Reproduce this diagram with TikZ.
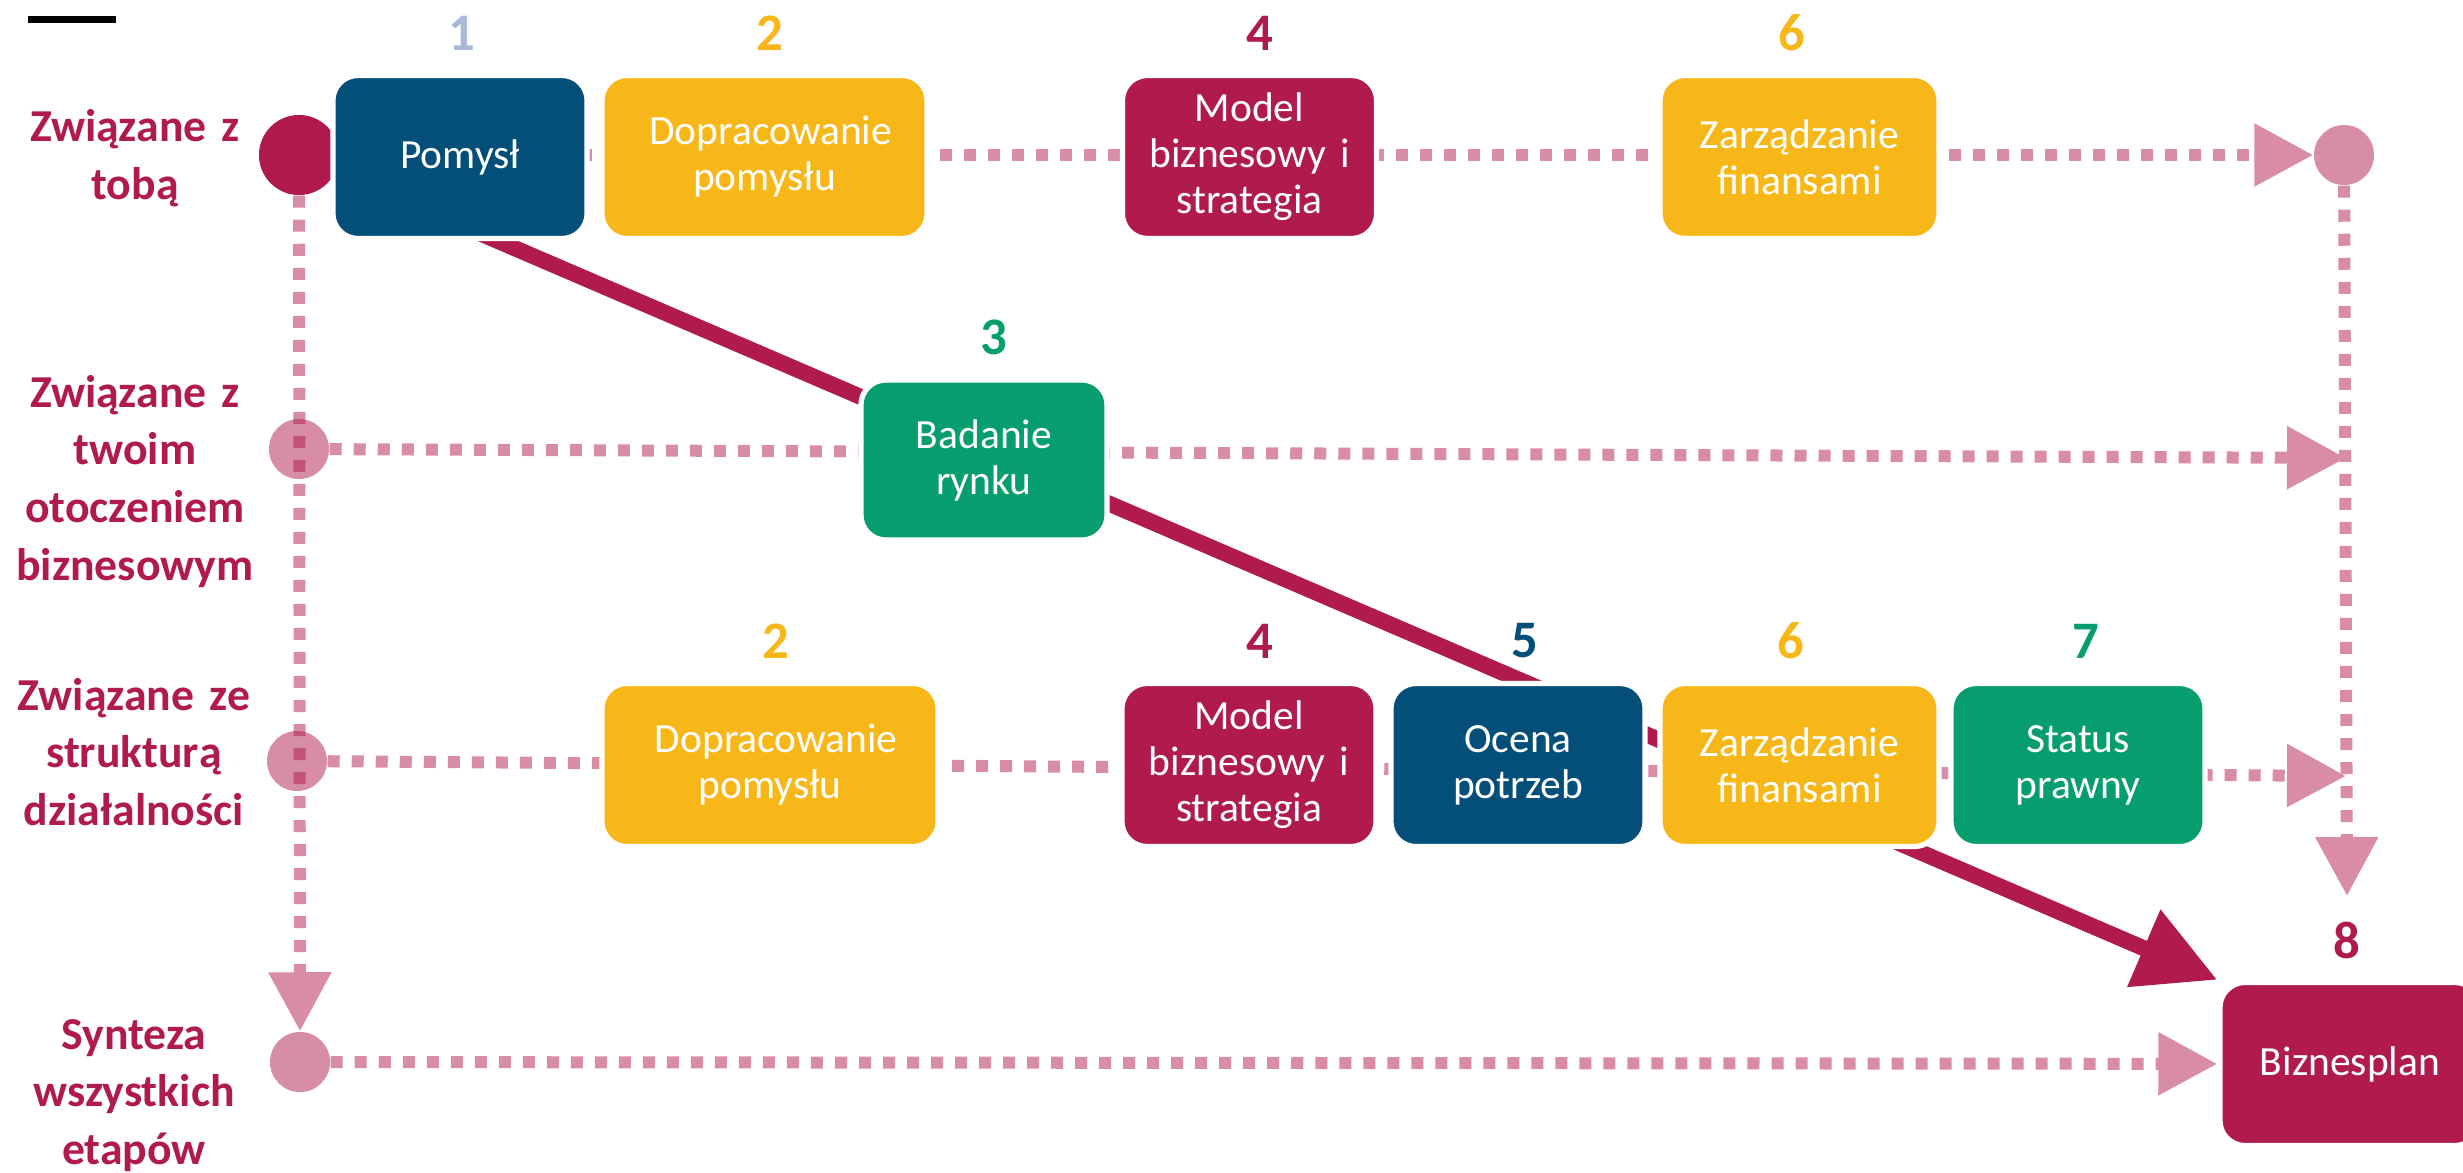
\documentclass[tikz,border=0pt]{standalone}
\usepackage{fontspec}
\setmainfont{Carlito}
\usepackage{tikz}
\usetikzlibrary{arrows.meta,backgrounds,calc}
\definecolor{bpmagenta}{HTML}{B01A4F}
\definecolor{bppink}{HTML}{D88CA7}
\definecolor{bpblue}{HTML}{044E7A}
\definecolor{bpyellow}{HTML}{F7B718}
\definecolor{bpgreen}{HTML}{069E6E}
\definecolor{bpgrey}{HTML}{AAB9DA}

\begin{document}
\begin{tikzpicture}[x=0.01cm,y=-0.01cm,
  stage/.style={rounded corners=0.25cm, draw=white, line width=1.5pt, text=white,
    minimum width=2.54cm, minimum height=1.63cm, text width=2.3cm, inner sep=0pt,
    align=center, font=\fontsize{11.8}{13.1}\selectfont},
  rowlabel/.style={text=bpmagenta, text width=2.6cm, align=center, inner sep=0pt,
    anchor=base, font=\bfseries\fontsize{13}{16.4}\selectfont},
  stepno/.style={inner sep=0pt, font=\bfseries\fontsize{15}{18}\selectfont},
  hub/.style={circle, fill=bpmagenta, opacity=0.5, minimum size=0.6cm, inner sep=0pt},
  dotline/.style={draw=bppink, line width=0.12cm,
    dash pattern=on 0.12cm off 0.12cm, -{Triangle[length=0.59cm,width=0.6cm]}},
  mainarrow/.style={draw=bpmagenta, line width=0.16cm,
    -{Triangle[length=0.8cm,width=0.8cm]}}
]
\useasboundingbox (0,0) rectangle (2463,1173);
\draw[line width=0.07cm] (28,19.5) -- (116,19.5);

% row labels
\node[rowlabel] (lab1) at (135,142) {Związane z\\tobą};
\node[rowlabel] (lab2) at (135,407) {Związane z\\twoim\\otoczeniem\\biznesowym};
\node[rowlabel] (lab3) at (134,710) {Związane ze\\strukturą\\działalności};
\node[rowlabel] (lab5) at (134,1049) {Synteza\\wszystkich\\etapów};

% hubs
\node[hub, opacity=1, minimum size=0.8cm] (hubA) at (299,155) {};
\node[hub] (hubAR) at (2344,155) {};
\node[hub] (hubB) at (299,449) {};
\node[hub] (hubC) at (297,761) {};
\node[hub] (hubD) at (300,1062) {};
\coordinate (endB) at (2346,458);
\coordinate (endC) at (2346,776);
\coordinate (endR) at (2347,896);
\coordinate (diagstart) at (470,229);

% stages
\node[stage, fill=bpblue] (pomysl) at (460,157) {Pomysł};
\node[stage, fill=bpyellow, minimum width=3.25cm] (dopr1) at (764.5,157) {Dopracowanie\\pomysłu};
\node[stage, fill=bpmagenta] (model1) at (1249.5,157) {Model\\biznesowy i\\strategia};
\node[stage, fill=bpyellow, minimum width=2.79cm] (fin1) at (1799.5,157) {Zarządzanie\\finansami};
\node[stage, fill=bpgreen, minimum width=2.46cm, minimum height=1.6cm] (badanie) at (984,460) {Badanie\\rynku};
\node[stage, fill=bpyellow, minimum width=3.36cm] (dopr3) at (770,765) {Dopracowanie\\pomysłu};
\node[stage, fill=bpmagenta] (model3) at (1249,765) {Model\\biznesowy i\\strategia};
\node[stage, fill=bpblue] (ocena) at (1518,765) {Ocena\\potrzeb};
\node[stage, fill=bpyellow, minimum width=2.79cm] (fin3) at (1799.5,765) {Zarządzanie\\finansami};
\node[stage, fill=bpgreen] (status) at (2078,765) {Status\\prawny};
\node[stage, fill=bpmagenta, minimum width=2.6cm] (biznesplan) at (2350,1064) {Biznesplan};

% step numbers
\node[stepno, text=bpgrey] (n1) at (462,33) {1};
\node[stepno, text=bpyellow] (n2a) at (770,33) {2};
\node[stepno, text=bpmagenta] (n4a) at (1260,33) {4};
\node[stepno, text=bpyellow] (n6a) at (1792,33) {6};
\node[stepno, text=bpgreen] (n3) at (994,337) {3};
\node[stepno, text=bpyellow] (n2b) at (776,641) {2};
\node[stepno, text=bpmagenta] (n4b) at (1260,641) {4};
\node[stepno, text=bpblue] (n5) at (1525,641) {5};
\node[stepno, text=bpyellow] (n6b) at (1791,641) {6};
\node[stepno, text=bpgreen] (n7) at (2086,641) {7};
\node[stepno, text=bpmagenta] (n8) at (2347,940) {8};

\begin{scope}[on background layer]
\draw[dotline] (hubA) -- (hubAR);
\draw[dotline] (hubAR) -- (endR);
\draw[dotline] (hubB) -- (endB);
\draw[dotline] (hubC) -- (endC);
\draw[dotline] (hubA) -- (hubD);
\draw[dotline] (hubD) -- (biznesplan);
\draw[mainarrow] (diagstart) -- (biznesplan.north west);
\end{scope}
\end{tikzpicture}
\end{document}
